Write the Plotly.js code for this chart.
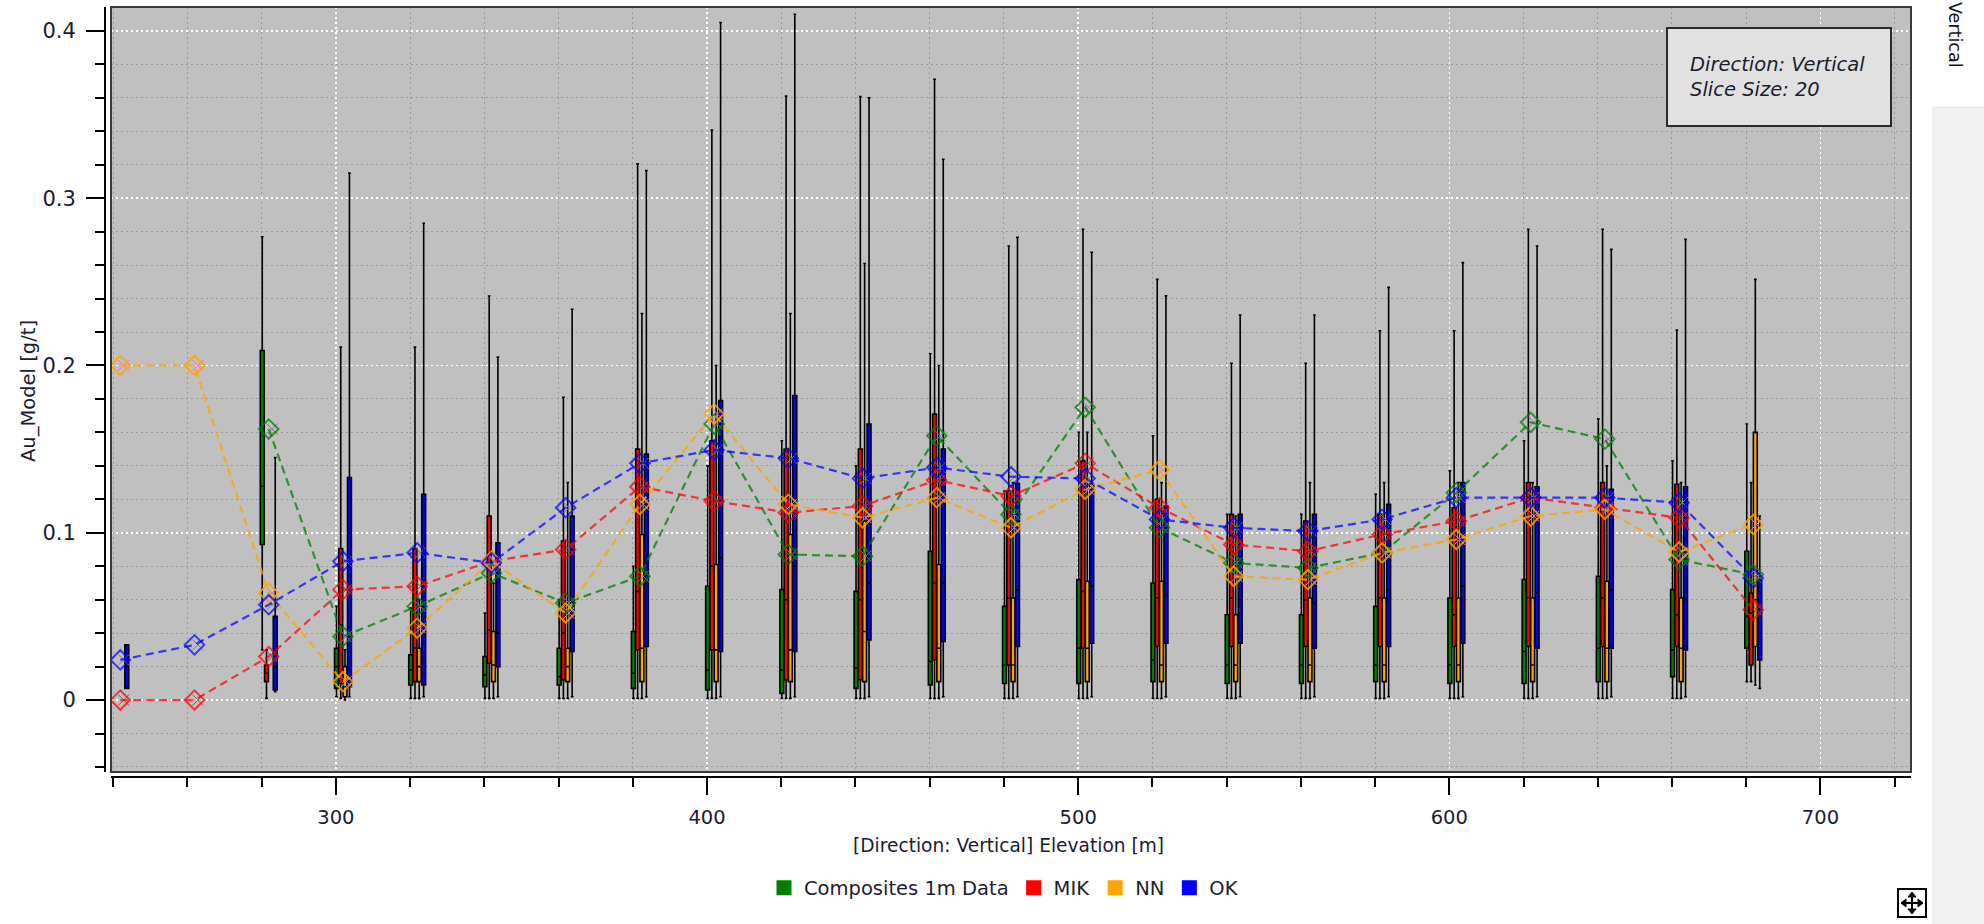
<!DOCTYPE html>
<html><head><meta charset="utf-8">
<script src="https://cdn.plot.ly/plotly-3.0.1.min.js"></script>
<style>html,body{margin:0;padding:0;background:#fff;}#chart{width:1984px;height:924px;}</style>
</head><body><div id="chart"></div>
<script>
// ---------- DATA ----------
const bins = [240,260,280,300,320,340,360,380,400,420,440,460,480,500,520,540,560,580,600,620,640,660,680];
const seriesNames = ['Composites 1m Data','MIK','NN','OK'];
const xTickLabels = ['300','400','500','600','700'];
const yTickLabels = ['0','0.1','0.2','0.3','0.4'];

// means (dashed lines with diamonds)
const meanComp = [null,null,0.162,0.038,0.056,0.076,0.058,0.074,0.165,0.087,0.086,0.158,0.111,0.175,0.103,0.082,0.079,0.088,0.124,0.166,0.156,0.084,0.075];
const meanMIK  = [0,0,0.026,0.066,0.068,0.083,0.090,0.1275,0.119,0.112,0.116,0.1315,0.122,0.1415,0.115,0.093,0.089,0.099,0.107,0.121,0.115,0.109,0.054];
const meanNN   = [0.2,0.2,0.064,0.011,0.043,0.083,0.052,0.117,0.171,0.117,0.109,0.121,0.103,0.126,0.1375,0.074,0.072,0.088,0.096,0.110,0.114,0.0885,0.105];
const meanOK   = [0.024,0.033,0.057,0.083,0.088,0.082,0.115,0.1415,0.1495,0.1445,0.1325,0.139,0.1335,0.1325,0.108,0.103,0.101,0.108,0.121,0.121,0.121,0.118,0.073];

// box statistics
const compQ3  = [null,null,0.209,0.031,0.027,0.026,0.031,0.041,0.068,0.066,0.065,0.089,0.056,0.072,0.070,0.051,0.051,0.056,0.061,0.072,0.074,0.066,0.089];
const compMed = [null,null,0.128,0.020,0.018,0.015,0.014,0.016,0.018,0.018,0.019,0.023,0.021,0.031,0.024,0.021,0.021,0.021,0.021,0.029,0.031,0.030,0.050];
const compQ1  = [null,null,0.093,0.007,0.009,0.008,0.009,0.007,0.006,0.004,0.007,0.009,0.010,0.010,0.011,0.010,0.010,0.011,0.010,0.010,0.011,0.014,0.031];
const compHi  = [null,null,0.277,0.056,0.055,0.052,0.060,0.080,0.140,0.155,0.140,0.207,0.125,0.160,0.158,0.111,0.111,0.123,0.137,0.155,0.168,0.143,0.165];
const compLo  = [null,null,0.030,0.002,0.001,0.001,0.001,0.001,0.001,0.001,0.001,0.001,0.001,0.001,0.001,0.001,0.001,0.001,0.001,0.001,0.001,0.001,0.011];

const mikQ3  = [null,null,0.021,0.0905,0.0905,0.110,0.095,0.150,0.155,0.150,0.150,0.171,0.125,0.143,0.120,0.111,0.107,0.111,0.115,0.130,0.130,0.129,0.064];
const mikMed = [null,null,0.016,0.045,0.031,0.042,0.040,0.065,0.080,0.060,0.060,0.070,0.061,0.065,0.061,0.061,0.060,0.061,0.051,0.061,0.061,0.051,0.052];
const mikQ1  = [null,null,0.011,0.010,0.011,0.022,0.012,0.030,0.030,0.012,0.012,0.024,0.021,0.031,0.032,0.032,0.032,0.032,0.032,0.032,0.032,0.032,0.021];
const mikHi  = [null,null,0.030,0.211,0.211,0.2415,0.181,0.3205,0.3408,0.361,0.3607,0.3711,0.2714,0.2814,0.2515,0.2013,0.2013,0.2208,0.2208,0.2814,0.2814,0.2212,0.130];
const mikLo  = [null,null,0.001,0.001,0.001,0.001,0.001,0.001,0.001,0.001,0.001,0.001,0.001,0.001,0.001,0.001,0.001,0.001,0.001,0.001,0.001,0.001,0.011];

const nnQ3  = [null,null,null,0.020,0.031,0.041,0.031,0.099,0.081,0.099,0.107,0.081,0.061,0.071,0.071,0.051,0.061,0.061,0.061,0.061,0.071,0.061,0.160];
const nnMed = [null,null,null,0.008,0.020,0.021,0.020,0.031,0.030,0.030,0.041,0.031,0.021,0.031,0.021,0.021,0.021,0.021,0.021,0.021,0.031,0.031,0.060];
const nnQ1  = [null,null,null,0.002,0.011,0.011,0.011,0.011,0.011,0.011,0.011,0.011,0.011,0.011,0.011,0.011,0.011,0.011,0.011,0.011,0.011,0.011,0.032];
const nnHi  = [null,null,null,0.030,0.060,0.070,0.130,0.2311,0.200,0.2311,0.261,0.200,0.130,0.160,0.130,0.110,0.130,0.130,0.130,0.130,0.140,0.130,0.2515];
const nnLo  = [null,null,null,0.000,0.001,0.001,0.001,0.001,0.001,0.001,0.001,0.001,0.001,0.001,0.001,0.001,0.001,0.001,0.001,0.001,0.001,0.001,0.009];

const okQ3  = [0.033,null,0.050,0.133,0.123,0.094,0.110,0.147,0.179,0.182,0.165,0.150,0.1295,0.129,0.116,0.111,0.111,0.117,0.130,0.1275,0.126,0.1275,0.072];
const okMed = [0.020,null,0.020,0.040,0.040,0.040,0.050,0.070,0.085,0.080,0.070,0.070,0.066,0.068,0.063,0.060,0.058,0.066,0.068,0.064,0.066,0.060,0.050];
const okQ1  = [0.007,null,0.006,0.008,0.009,0.020,0.029,0.032,0.029,0.029,0.036,0.035,0.032,0.034,0.034,0.034,0.031,0.032,0.034,0.031,0.031,0.030,0.024];
const okHi  = [0.033,null,0.145,0.315,0.285,0.205,0.2336,0.3165,0.405,0.410,0.360,0.3233,0.2766,0.2677,0.2416,0.2302,0.2302,0.2467,0.2615,0.2714,0.2694,0.2754,0.110];
const okLo  = [0.007,null,0.005,0.002,0.002,0.002,0.002,0.002,0.002,0.002,0.002,0.002,0.002,0.002,0.002,0.002,0.002,0.002,0.002,0.002,0.002,0.002,0.007];

// ---------- STYLE ----------
const W = 1984, H = 924, ML = 105, MR = 73, MT = 7, MB = 147;
const PW = W - ML - MR, PH = H - MT - MB;
const fx = px => (px - ML) / PW;           // pixel -> paper x
const fy = py => (H - MB - py) / PH;       // pixel -> paper y
const FONT = 'DejaVu Sans';
const TXT = '#1c1c30';
const COLORS = ['#008000','#ff0000','#ffa500','#0000ff'];
const LINECOL = ['rgba(0,128,0,0.75)','rgba(255,0,0,0.72)','rgba(255,165,0,0.8)','rgba(0,0,255,0.72)'];
const OFFS = [0.15, 1.3, 2.45, 3.65];
const MEAN_OFF = 1.9, XMARK_OFF = 2.8, BOX_W = 1.05;

const boxStats = [
  [compQ1, compMed, compQ3, compLo, compHi],
  [mikQ1, mikMed, mikQ3, mikLo, mikHi],
  [nnQ1, nnMed, nnQ3, nnLo, nnHi],
  [okQ1, okMed, okQ3, okLo, okHi]
];
const means = [meanComp, meanMIK, meanNN, meanOK];

const traces = [];
boxStats.forEach((s, k) => {
  const idx = bins.map((b, i) => i).filter(i => s[2][i] !== null);
  traces.push({
    type: 'box', name: seriesNames[k], showlegend: false, hoverinfo: 'skip',
    x: idx.map(i => bins[i] + OFFS[k]),
    q1: idx.map(i => s[0][i]), median: idx.map(i => s[1][i]), q3: idx.map(i => s[2][i]),
    lowerfence: idx.map(i => s[3][i]), upperfence: idx.map(i => s[4][i]),
    width: BOX_W, fillcolor: COLORS[k], line: {color: '#000', width: 1.6},
    whiskerwidth: 0.7, boxpoints: false
  });
});
means.forEach((m, k) => {
  traces.push({
    type: 'scatter', mode: 'markers', showlegend: false, hoverinfo: 'skip',
    x: bins.map(b => b + XMARK_OFF), y: m,
    marker: {symbol: 'x-thin-open', size: 11, line: {color: 'rgba(70,70,70,0.8)', width: 1}}
  });
});
means.forEach((m, k) => {
  traces.push({
    type: 'scatter', mode: 'lines+markers', showlegend: false, hoverinfo: 'skip',
    x: bins.map(b => b + MEAN_OFF), y: m,
    line: {color: LINECOL[k], width: 2.2, dash: '8px,5px'},
    marker: {symbol: 'diamond-open', size: 15, color: LINECOL[k], line: {color: LINECOL[k], width: 2}}
  });
});
// legend entries
seriesNames.forEach((n, k) => {
  traces.push({type: 'scatter', mode: 'markers', name: n, x: [null], y: [null],
    marker: {symbol: 'square', size: 15, color: COLORS[k]}});
});

const gridDash = '2px,3px';
const layout = {
  width: W, height: H, paper_bgcolor: '#ffffff', plot_bgcolor: '#c0c0c0',
  margin: {l: ML, r: MR, t: MT, b: MB}, hovermode: false,
  font: {family: FONT, size: 19.5, color: TXT},
  showlegend: true,
  legend: {orientation: 'h', x: fx(1004), xanchor: 'center', y: fy(888), yanchor: 'middle',
    font: {family: FONT, size: 19.5, color: TXT}, bgcolor: 'rgba(0,0,0,0)'},
  xaxis: {
    domain: [6 / PW, 1], range: [239.4, 724.4], anchor: 'free', position: 0,
    tickmode: 'array', tickvals: xTickLabels.map(Number), ticktext: xTickLabels,
    ticks: 'outside', ticklen: 17, tickwidth: 2, tickcolor: '#000',
    showline: true, linecolor: '#000', linewidth: 2, zeroline: false,
    showgrid: true, gridcolor: '#ffffff', griddash: gridDash, gridwidth: 1.6,
    tickfont: {family: FONT, size: 19.5, color: TXT}, ticklabelstandoff: 6,
    minor: {dtick: 20, tick0: 0, ticks: 'outside', ticklen: 9, tickwidth: 2, tickcolor: '#000',
      showgrid: true, gridcolor: '#9c9c9c', griddash: gridDash, gridwidth: 1}
  },
  yaxis: {
    domain: [5 / PH, 1], range: [-0.043, 0.4143], anchor: 'free', position: 0,
    tickmode: 'array', tickvals: yTickLabels.map(Number), ticktext: yTickLabels,
    ticks: 'outside', ticklen: 18, tickwidth: 2, tickcolor: '#000',
    showline: true, linecolor: '#000', linewidth: 2, zeroline: false,
    showgrid: true, gridcolor: '#ffffff', griddash: gridDash, gridwidth: 1.6,
    tickfont: {family: FONT, size: 21, color: TXT}, ticklabelstandoff: 6,
    minor: {dtick: 0.02, tick0: 0, ticks: 'outside', ticklen: 9, tickwidth: 2, tickcolor: '#000',
      showgrid: true, gridcolor: '#9c9c9c', griddash: gridDash, gridwidth: 1}
  },
  shapes: [
    // plot border
    {type: 'rect', xref: 'x domain', yref: 'y domain', x0: 0, x1: 1, y0: 0, y1: 1,
      line: {color: '#3a3a3a', width: 2}, layer: 'above'},
    // info box
    {type: 'rect', xref: 'paper', yref: 'paper', x0: fx(1667), x1: fx(1891), y0: fy(126), y1: fy(28),
      fillcolor: '#e1e1e1', line: {color: '#2a2a2a', width: 2}, layer: 'above'},
    // right side panel
    {type: 'rect', xref: 'paper', yref: 'paper', x0: fx(1933), x1: fx(1990), y0: fy(930), y1: fy(107),
      fillcolor: '#f0f0f0', line: {color: '#e2e2e2', width: 1}, layer: 'below'},
    // move icon
    {type: 'rect', xref: 'paper', yref: 'paper', x0: fx(1898), x1: fx(1926), y0: fy(917), y1: fy(889),
      fillcolor: '#ffffff', line: {color: '#000', width: 2}, layer: 'above'},
    {type: 'path', xref: 'paper', yref: 'paper', layer: 'above', line: {color: '#000', width: 2},
      path: `M ${fx(1902)} ${fy(903)} L ${fx(1922)} ${fy(903)} M ${fx(1912)} ${fy(893)} L ${fx(1912)} ${fy(913)}`},
    {type: 'path', xref: 'paper', yref: 'paper', layer: 'above', fillcolor: '#000', line: {color: '#000', width: 1},
      path: `M ${fx(1901)} ${fy(903)} L ${fx(1906)} ${fy(899)} L ${fx(1906)} ${fy(907)} Z ` +
            `M ${fx(1923)} ${fy(903)} L ${fx(1918)} ${fy(899)} L ${fx(1918)} ${fy(907)} Z ` +
            `M ${fx(1912)} ${fy(892)} L ${fx(1908)} ${fy(897)} L ${fx(1916)} ${fy(897)} Z ` +
            `M ${fx(1912)} ${fy(914)} L ${fx(1908)} ${fy(909)} L ${fx(1916)} ${fy(909)} Z`}
  ],
  annotations: [
    {xref: 'paper', yref: 'paper', x: fx(1008), y: fy(845), xanchor: 'center', yanchor: 'middle',
      text: '[Direction: Vertical] Elevation [m]', showarrow: false, font: {family: FONT, size: 18.6, color: TXT}},
    {xref: 'paper', yref: 'paper', x: fx(28), y: fy(391), xanchor: 'center', yanchor: 'middle', textangle: -90,
      text: 'Au_Model [g/t]', showarrow: false, font: {family: FONT, size: 19.5, color: TXT}},
    {xref: 'paper', yref: 'paper', x: fx(1688), y: fy(77), xanchor: 'left', yanchor: 'middle', align: 'left',
      text: '<i>Direction: Vertical</i><br><i>Slice Size: 20</i>', showarrow: false,
      font: {family: FONT, size: 19.5, color: TXT}},
    {xref: 'paper', yref: 'paper', x: fx(1955), y: fy(35), xanchor: 'center', yanchor: 'middle', textangle: 90,
      text: 'Vertical', showarrow: false, font: {family: FONT, size: 17.5, color: '#111'}}
  ]
};

Plotly.newPlot('chart', traces, layout, {displayModeBar: false, staticPlot: true});
</script>
</body></html>
